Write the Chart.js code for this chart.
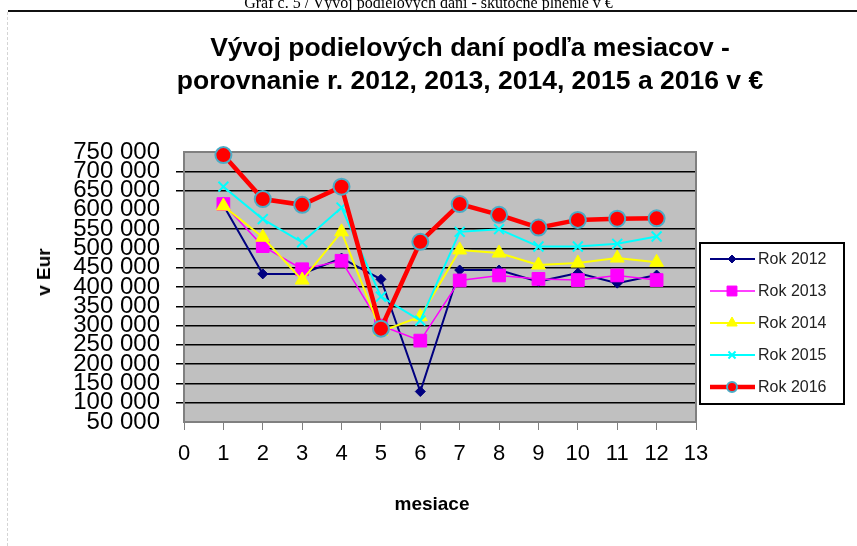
<!DOCTYPE html>
<html>
<head>
<meta charset="utf-8">
<script src="https://cdn.jsdelivr.net/npm/chart.js@4.4.1/dist/chart.umd.min.js"></script>
<style>
  html, body { margin: 0; padding: 0; background: #fff; }
  #wrap { position: relative; width: 857px; height: 546px; overflow: hidden; font-family: "Liberation Sans", Arial, sans-serif; color: #000; }
  canvas { position: absolute; left: 0; top: 0; }
  #caption { position: absolute; left: 0; width: 857px; top: -6px; text-align: center; font-family: "Liberation Serif", "Times New Roman", serif; font-size: 16px; line-height: 18px; white-space: nowrap; }
  #rule { position: absolute; left: 8px; right: 0; top: 10px; height: 2px; background: #111; }
  #edge { position: absolute; left: 7px; top: 12px; bottom: 0; border-left: 1px dashed #d4d4d4; }
  #title { position: absolute; left: 40px; width: 860px; top: 31px; text-align: center; font-size: 26.5px; font-weight: bold; line-height: 33px; white-space: nowrap; }
  .axisTitle { position: absolute; font-size: 19px; font-weight: bold; white-space: nowrap; transform: translate(-50%, -50%); }
  #yTitle { left: 44px; top: 272px; transform: translate(-50%, -50%) rotate(-90deg); }
  #xTitle { left: 432px; top: 504px; }
</style>
</head>
<body>
<div id="wrap">
  <canvas id="lineChart" width="857" height="546"></canvas>
  <div id="caption">Graf č. 5 / Vývoj podielových daní - skutočné plnenie v €</div>
  <div id="rule"></div>
  <div id="edge"></div>
  <div id="title">Vývoj podielových daní podľa mesiacov -<br>porovnanie r. 2012, 2013, 2014, 2015 a 2016 v €</div>
  <div id="yTitle" class="axisTitle">v Eur</div>
  <div id="xTitle" class="axisTitle">mesiace</div>
</div>
<script>
const months = [1, 2, 3, 4, 5, 6, 7, 8, 9, 10, 11, 12];
const seriesLabels = ["Rok 2012", "Rok 2013", "Rok 2014", "Rok 2015", "Rok 2016"];

const rok2012 = [612000, 434000, 434000, 475000, 420000, 129000, 444000, 444000, 414000, 436000, 410000, 431000];
const rok2013 = [615000, 506000, 446000, 468000, 300000, 261000, 417000, 430000, 421000, 418000, 430000, 418000];
const rok2014 = [610000, 529000, 418000, 543000, 285000, 323000, 496000, 488000, 457000, 462000, 475000, 464000];
const rok2015 = [660000, 576000, 516000, 606000, 375000, 313000, 543000, 550000, 505000, 505000, 512000, 531000];
const rok2016 = [742000, 628000, 613000, 660000, 292000, 517000, 615000, 587000, 554000, 574000, 577000, 578000];

const xMin = 0, xMax = 13, xStep = 1;
const yMin = 50000, yMax = 750000, yStep = 50000;
// gridlines that the original does not show
const noGridValues = [50000, 600000, 750000];

const seriesValues = [rok2012, rok2013, rok2014, rok2015, rok2016];

const styles = [
    { color: "#000080", width: 2, point: "rectRot", r: 5, fill: "#000080", border: "#000080", bw: 1, legendR: 4 },
    { color: "#ff00ff", width: 1.5, point: "rect", r: 9, fill: "#ff00ff", border: "#ff00ff", bw: 1, legendR: 7 },
    { color: "#ffff00", width: 2, point: "triangle", r: 8, fill: "#ffff00", border: "#ffff00", bw: 1, legendR: 6 },
    { color: "#00ffff", width: 2, point: "crossRot", r: 7, fill: "#00ffff", border: "#00ffff", bw: 2, legendR: 5 },
    { color: "#ff0000", width: 4.5, point: "circle", r: 8, fill: "#ff0000", border: "#4bacc6", bw: 2, legendR: 5 },
];

const datasets = seriesLabels.map((label, i) => ({
    label: label,
    data: months.map((m, k) => ({ x: m, y: seriesValues[i][k] })),
    borderColor: styles[i].color,
    borderWidth: styles[i].width,
    pointStyle: styles[i].point,
    pointRadius: styles[i].r,
    pointBackgroundColor: styles[i].fill,
    pointBorderColor: styles[i].border,
    pointBorderWidth: styles[i].bw,
    tension: 0,
    clip: false,
    order: seriesLabels.length - i,
}));

const formatEur = (v) => String(v).replace(/\B(?=(\d{3})+(?!\d))/g, " ");

const plotFrame = {
    id: "plotFrame",
    beforeDraw(chart) {
        const { ctx, chartArea: a } = chart;
        ctx.save();
        ctx.fillStyle = "#c0c0c0";
        ctx.fillRect(a.left, a.top, a.width, a.height);
        ctx.restore();
    },
    beforeDatasetsDraw(chart) {
        const { ctx, chartArea: a } = chart;
        ctx.save();
        ctx.strokeStyle = "#808080";
        ctx.lineWidth = 2;
        ctx.strokeRect(a.left, a.top, a.width, a.height);
        ctx.restore();
    },
};

// boxed legend on the right, line sample with marker like the original
const boxLegend = {
    id: "boxLegend",
    afterDraw(chart) {
        const ctx = chart.ctx;
        const left = chart.chartArea.right + 4, top = 243, w = 144, h = 161;
        ctx.save();
        ctx.fillStyle = "#fff";
        ctx.fillRect(left, top, w, h);
        ctx.strokeStyle = "#000";
        ctx.lineWidth = 2;
        ctx.strokeRect(left, top, w, h);
        ctx.font = "16px 'Liberation Sans', Arial, sans-serif";
        ctx.textBaseline = "middle";
        chart.data.datasets.forEach((ds, i) => {
            const y = top + 16 + i * 32;
            ctx.strokeStyle = ds.borderColor;
            ctx.lineWidth = ds.borderWidth;
            ctx.beginPath();
            ctx.moveTo(left + 10, y);
            ctx.lineTo(left + 55, y);
            ctx.stroke();
            ctx.fillStyle = ds.pointBackgroundColor;
            ctx.strokeStyle = ds.pointBorderColor;
            ctx.lineWidth = ds.pointBorderWidth;
            Chart.helpers.drawPoint(ctx, {
                pointStyle: ds.pointStyle,
                radius: styles[i].legendR,
                borderWidth: ds.pointBorderWidth,
                rotation: 0,
            }, left + 32, y);
            ctx.fillStyle = "#222";
            ctx.fillText(ds.label, left + 58, y + 1);
        });
        ctx.restore();
    },
};

Chart.defaults.font.family = "'Liberation Sans', Arial, sans-serif";
Chart.defaults.color = "#000";

new Chart(document.getElementById("lineChart"), {
    type: "line",
    data: { datasets: datasets },
    plugins: [plotFrame, boxLegend],
    options: {
        responsive: false,
        animation: false,
        layout: { padding: { top: 152, right: 161, left: 0, bottom: 0 } },
        plugins: {
            legend: { display: false },
            title: { display: false },
            tooltip: { enabled: false },
        },
        scales: {
            x: {
                type: "linear",
                min: xMin,
                max: xMax,
                ticks: { stepSize: xStep, autoSkip: false, maxRotation: 0, padding: 11, font: { size: 22 }, color: "#000" },
                grid: { drawOnChartArea: false, tickLength: 8, color: "#808080", lineWidth: 1 },
                border: { display: false },
                afterFit: (scale) => { scale.height = 124; },
            },
            y: {
                min: yMin,
                max: yMax,
                ticks: {
                    stepSize: yStep, autoSkip: false, padding: 16, color: "#000",
                    font: { size: 24 },
                    callback: (v) => formatEur(v),
                },
                grid: {
                    tickLength: 8,
                    lineWidth: 1.5,
                    color: (c) => (c.tick && noGridValues.includes(c.tick.value) ? "rgba(0,0,0,0)" : "#000"),
                },
                border: { display: false },
                afterFit: (scale) => { scale.width = 184; },
            },
        },
    },
});
</script>
</body>
</html>
